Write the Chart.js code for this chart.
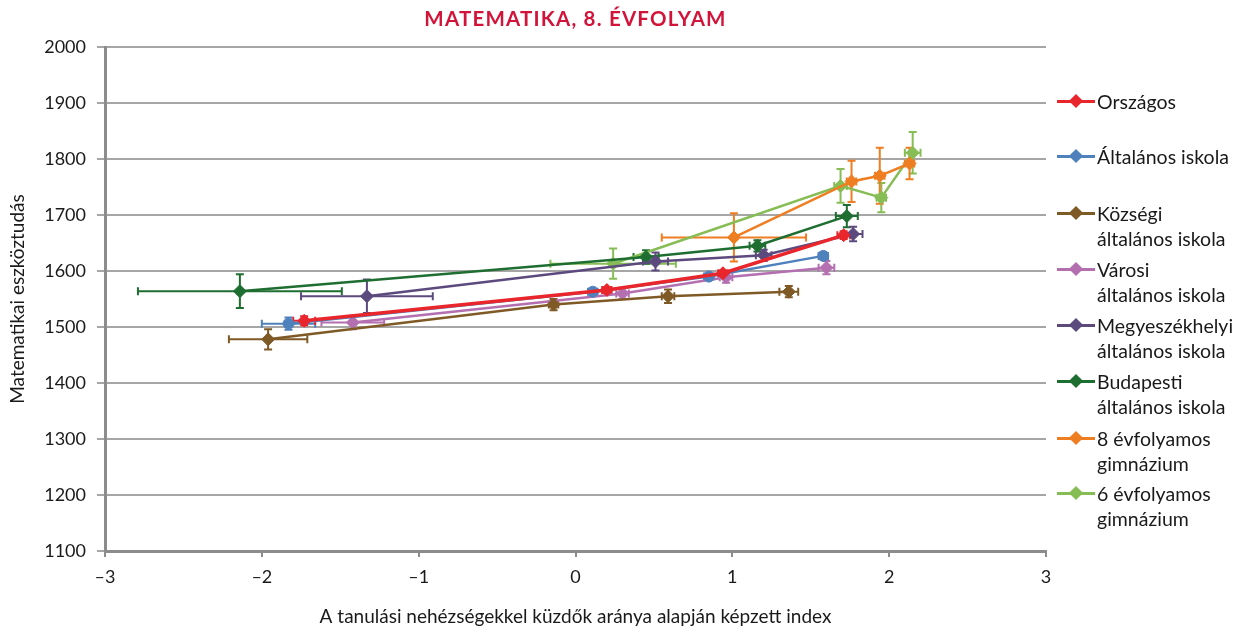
<!DOCTYPE html>
<html lang="hu">
<head>
    <meta charset="UTF-8">
    <title>Matematika, 8. évfolyam</title>
    <style>
        * { margin: 0; padding: 0; box-sizing: border-box; }
        body { width: 1244px; height: 633px; background: #fff; font-family: Lato, "Open Sans", sans-serif; position: relative; overflow: hidden; }
        .wrap { position: absolute; left: 0; top: 0; width: 1244px; height: 633px; }
        .title { position: absolute; top: 6px; left: 105px; width: 941px; text-align: center; color: #d2143a; font-weight: bold; font-size: 20.5px; letter-spacing: 1.2px; }
        .legend { position: absolute; left: 1057px; top: 0; }
        .item { position: absolute; left: 0; width: 190px; font-size: 19.5px; line-height: 25px; color: #1a1a1a; }
        .swatch { position: absolute; left: 0; top: 11px; width: 38px; height: 3px; }
        .mark { position: absolute; left: 14px; top: 7px; width: 10px; height: 10px; transform: rotate(45deg); }
        .text { position: absolute; left: 40px; top: 0; white-space: nowrap; }
    </style>
    <script src="https://cdn.jsdelivr.net/npm/chart.js"></script>
</head>
<body>
<div class="wrap"><canvas id="chart" width="1244" height="633"></canvas></div>
<div class="title">MATEMATIKA, 8. ÉVFOLYAM</div>
<div class="legend" id="legend"></div>

<script>
    // series names and colours
    const seriesNames = ['Országos', 'Általános iskola', 'Községi\náltalános iskola', 'Városi\náltalános iskola',
        'Megyeszékhelyi\náltalános iskola', 'Budapesti\náltalános iskola', '8 évfolyamos\ngimnázium', '6 évfolyamos\ngimnázium'];
    const seriesColors = ['#e8262c', '#4f81bd', '#7f5a26', '#b46fb0', '#5c4a7e', '#1f6e31', '#ef7d22', '#86bd55'];

    // index values (x)
    const orszagosX = [-1.73, 0.20, 0.94, 1.71];
    const altalanosX = [-1.83, 0.11, 0.85, 1.58];
    const kozsegiX = [-1.96, -0.14, 0.59, 1.36];
    const varosiX = [-1.42, 0.30, 0.96, 1.60];
    const megyeX = [-1.33, 0.51, 1.20, 1.77];
    const budapestX = [-2.14, 0.45, 1.16, 1.73];
    const gimn8X = [1.01, 1.76, 1.94, 2.13];
    const gimn6X = [0.24, 1.69, 1.95, 2.15];

    // scores (y)
    const orszagosY = [1511, 1566, 1596, 1664];
    const altalanosY = [1506, 1563, 1590, 1627];
    const kozsegiY = [1478, 1540, 1555, 1563];
    const varosiY = [1508, 1560, 1589, 1606];
    const megyeY = [1555, 1617, 1628, 1666];
    const budapestY = [1564, 1625, 1645, 1698];
    const gimn8Y = [1660, 1760, 1770, 1792];
    const gimn6Y = [1613, 1752, 1731, 1811];

    // error bar half-widths
    const orszagosXErr = [0.07, 0.03, 0.03, 0.04];
    const orszagosYErr = [8, 5, 5, 7];
    const altalanosXErr = [0.17, 0.03, 0.03, 0.03];
    const altalanosYErr = [11, 5, 5, 6];
    const kozsegiXErr = [0.25, 0.03, 0.04, 0.06];
    const kozsegiYErr = [18, 10, 12, 10];
    const varosiXErr = [0.2, 0.04, 0.04, 0.05];
    const varosiYErr = [12, 10, 10, 12];
    const megyeXErr = [0.42, 0.08, 0.05, 0.06];
    const megyeYErr = [30, 16, 10, 13];
    const budapestXErr = [0.65, 0.08, 0.05, 0.07];
    const budapestYErr = [30, 12, 10, 20];
    const gimn8XErr = [0.46, 0.03, 0.03, 0.03];
    const gimn8YErr = [43, 37, 50, 28];
    const gimn6XErr = [0.4, 0.04, 0.03, 0.05];
    const gimn6YErr = [27, 30, 26, 37];

    const xTicks = [-3, -2, -1, 0, 1, 2, 3];
    const yTicks = [1100, 1200, 1300, 1400, 1500, 1600, 1700, 1800, 1900, 2000];

    const allX = [orszagosX, altalanosX, kozsegiX, varosiX, megyeX, budapestX, gimn8X, gimn6X];
    const allY = [orszagosY, altalanosY, kozsegiY, varosiY, megyeY, budapestY, gimn8Y, gimn6Y];
    const allXErr = [orszagosXErr, altalanosXErr, kozsegiXErr, varosiXErr, megyeXErr, budapestXErr, gimn8XErr, gimn6XErr];
    const allYErr = [orszagosYErr, altalanosYErr, kozsegiYErr, varosiYErr, megyeYErr, budapestYErr, gimn8YErr, gimn6YErr];

    // error bars drawn through the chart scales
    const errorBars = {
        id: 'errorBars',
        beforeDatasetsDraw(chart) {
            const ctx = chart.ctx;
            const xs = chart.scales.x, ys = chart.scales.y;
            for (let i = chart.data.datasets.length - 1; i >= 0; i--) {
                const ds = chart.data.datasets[i];
                ctx.save();
                ctx.strokeStyle = ds.borderColor;
                ctx.lineWidth = 2;
                ds.data.forEach(p => {
                    const px = xs.getPixelForValue(p.x), py = ys.getPixelForValue(p.y);
                    const x0 = xs.getPixelForValue(p.x - p.xErr), x1 = xs.getPixelForValue(p.x + p.xErr);
                    const y0 = ys.getPixelForValue(p.y - p.yErr), y1 = ys.getPixelForValue(p.y + p.yErr);
                    const c = 4;
                    ctx.beginPath();
                    ctx.moveTo(x0, py); ctx.lineTo(x1, py);
                    ctx.moveTo(x0, py - c); ctx.lineTo(x0, py + c);
                    ctx.moveTo(x1, py - c); ctx.lineTo(x1, py + c);
                    ctx.moveTo(px, y0); ctx.lineTo(px, y1);
                    ctx.moveTo(px - c, y0); ctx.lineTo(px + c, y0);
                    ctx.moveTo(px - c, y1); ctx.lineTo(px + c, y1);
                    ctx.stroke();
                });
                ctx.restore();
            }
        }
    };

    const datasets = seriesNames.map((name, i) => ({
        label: name.replace('\n', ' '),
        data: allX[i].map((x, j) => ({ x: x, y: allY[i][j], xErr: allXErr[i][j], yErr: allYErr[i][j] })),
        borderColor: seriesColors[i],
        backgroundColor: seriesColors[i],
        borderWidth: i === 0 ? 3.5 : 2.5,
        pointStyle: i === 1 ? 'circle' : 'rectRot',
        pointRadius: i === 1 ? 5.5 : 6.5,
        pointBorderWidth: 1,
        pointHoverRadius: 6.5,
        showLine: true,
        tension: 0
    }));

    const tickFont = { family: 'Lato, "Open Sans", sans-serif', size: 18 };
    const titleFont = { family: 'Lato, "Open Sans", sans-serif', size: 19 };

    new Chart(document.getElementById('chart'), {
        type: 'scatter',
        data: { datasets: datasets },
        options: {
            responsive: false,
            animation: false,
            layout: { padding: { top: 47, right: 198, left: 0, bottom: 0 } },
            plugins: { legend: { display: false }, title: { display: false }, tooltip: { enabled: false } },
            scales: {
                x: {
                    type: 'linear', min: -3, max: 3,
                    afterBuildTicks: s => { s.ticks = xTicks.map(v => ({ value: v })); },
                    afterFit: s => { s.height = 82; },
                    grid: { drawOnChartArea: false, tickLength: 6, color: '#8c8c8c', lineWidth: 2 },
                    border: { color: '#8c8c8c', width: 3 },
                    ticks: { font: tickFont, color: '#1a1a1a', padding: 9, callback: v => String(v).replace('-', '\u2013') },
                    title: { display: true, text: 'A tanulási nehézségekkel küzdők aránya alapján képzett index', font: titleFont, color: '#1a1a1a', padding: { top: 4, bottom: 5 } }
                },
                y: {
                    type: 'linear', min: 1100, max: 2000,
                    afterBuildTicks: s => { s.ticks = yTicks.map(v => ({ value: v })); },
                    afterFit: s => { s.width = 105; },
                    grid: { color: '#a6a6a6', lineWidth: 2, tickLength: 8 },
                    border: { color: '#8c8c8c', width: 3 },
                    ticks: { font: tickFont, color: '#1a1a1a', padding: 11, callback: v => String(v) },
                    title: { display: true, text: 'Matematikai eszköztudás', font: titleFont, color: '#1a1a1a', padding: { top: 6, bottom: 6 } }
                }
            }
        },
        plugins: [errorBars]
    });

    // legend built from the series arrays
    const legend = document.getElementById('legend');
    const legendTops = [89, 144, 201, 257, 313, 369, 426, 481];
    seriesNames.forEach((name, i) => {
        const item = document.createElement('div');
        item.className = 'item';
        item.style.top = legendTops[i] + 'px';
        const sw = document.createElement('div');
        sw.className = 'swatch';
        sw.style.background = seriesColors[i];
        const mk = document.createElement('div');
        mk.className = 'mark';
        mk.style.background = seriesColors[i];
        const tx = document.createElement('div');
        tx.className = 'text';
        tx.innerHTML = name.replace('\n', '<br>');
        item.appendChild(sw); item.appendChild(mk); item.appendChild(tx);
        legend.appendChild(item);
    });
</script>
</body>
</html>
